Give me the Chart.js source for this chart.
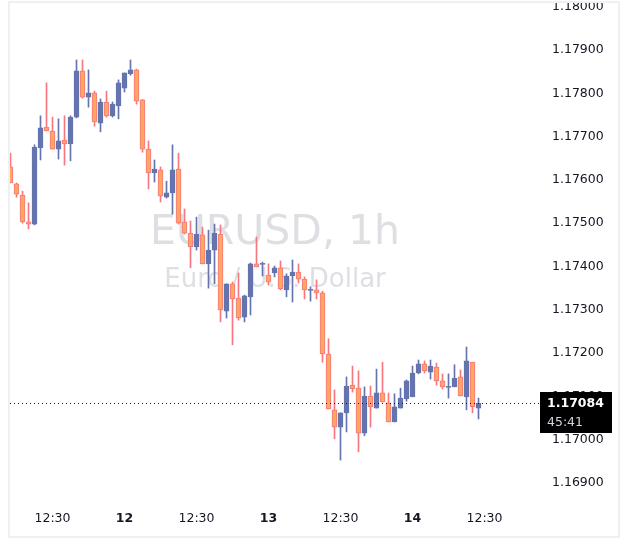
<!DOCTYPE html>
<html>
<head>
<meta charset="utf-8">
<script src="https://cdn.jsdelivr.net/npm/chart.js@4.4.1/dist/chart.umd.min.js"></script>
<style>
  html, body { margin: 0; padding: 0; background: #ffffff; }
  #wrap { position: relative; width: 629px; height: 557px; }
</style>
</head>
<body>
<div id="wrap"><canvas id="chart" width="629" height="557"></canvas></div>
<script>
// EURUSD 1h candles (index 0 = first visible bar)
const opens = [
  1.17630, 1.17591, 1.17565, 1.17503, 1.17498, 1.17674, 1.17722, 1.17713, 1.17671, 1.17692,
  1.17683, 1.17745, 1.17852, 1.17791, 1.17801, 1.17731, 1.17780, 1.17748, 1.17771, 1.17812,
  1.17845, 1.17854, 1.17785, 1.17671, 1.17616, 1.17623, 1.17560, 1.17570, 1.17625, 1.17503,
  1.17477, 1.17445, 1.17473, 1.17406, 1.17438, 1.17475, 1.17297, 1.17360, 1.17327, 1.17283,
  1.17330, 1.17406, 1.17405, 1.17380, 1.17385, 1.17397, 1.17346, 1.17378, 1.17387, 1.17371,
  1.17345, 1.17346, 1.17339, 1.17198, 1.17069, 1.17029, 1.17062, 1.17126, 1.17119, 1.17015,
  1.17101, 1.17073, 1.17108, 1.17085, 1.17041, 1.17073, 1.17094, 1.17099, 1.17154, 1.17175,
  1.17156, 1.17168, 1.17136, 1.17121, 1.17122, 1.17145, 1.17099, 1.17179, 1.17073
];
const highs = [
  1.17662, 1.17593, 1.17574, 1.17547, 1.17681, 1.17748, 1.17824, 1.17745, 1.17741, 1.17748,
  1.17748, 1.17877, 1.17877, 1.17854, 1.17805, 1.17787, 1.17805, 1.17780, 1.17831, 1.17847,
  1.17877, 1.17856, 1.17786, 1.17690, 1.17646, 1.17630, 1.17597, 1.17681, 1.17662, 1.17533,
  1.17505, 1.17514, 1.17491, 1.17484, 1.17498, 1.17496, 1.17360, 1.17364, 1.17385, 1.17334,
  1.17408, 1.17468, 1.17410, 1.17406, 1.17401, 1.17413, 1.17383, 1.17415, 1.17406, 1.17376,
  1.17353, 1.17369, 1.17343, 1.17233, 1.17115, 1.17062, 1.17145, 1.17170, 1.17159, 1.17122,
  1.17124, 1.17163, 1.17179, 1.17108, 1.17106, 1.17119, 1.17138, 1.17170, 1.17184, 1.17182,
  1.17184, 1.17177, 1.17152, 1.17152, 1.17173, 1.17161, 1.17214, 1.17179, 1.17096
];
const lows = [
  1.17593, 1.17560, 1.17500, 1.17487, 1.17496, 1.17646, 1.17713, 1.17671, 1.17648, 1.17634,
  1.17644, 1.17743, 1.17789, 1.17768, 1.17724, 1.17711, 1.17745, 1.17745, 1.17741, 1.17803,
  1.17842, 1.17775, 1.17664, 1.17579, 1.17595, 1.17549, 1.17558, 1.17521, 1.17498, 1.17475,
  1.17397, 1.17438, 1.17406, 1.17350, 1.17360, 1.17272, 1.17281, 1.17219, 1.17276, 1.17272,
  1.17288, 1.17399, 1.17378, 1.17357, 1.17376, 1.17346, 1.17330, 1.17318, 1.17362, 1.17325,
  1.17320, 1.17325, 1.17179, 1.17071, 1.17002, 1.16953, 1.17018, 1.17110, 1.16972, 1.17009,
  1.17029, 1.17073, 1.17087, 1.17041, 1.17041, 1.17073, 1.17089, 1.17099, 1.17152, 1.17154,
  1.17140, 1.17126, 1.17117, 1.17096, 1.17122, 1.17101, 1.17069, 1.17062, 1.17048
];
const closes = [
  1.17593, 1.17567, 1.17503, 1.17498, 1.17676, 1.17720, 1.17713, 1.17671, 1.17690, 1.17683,
  1.17745, 1.17852, 1.17791, 1.17801, 1.17734, 1.17780, 1.17748, 1.17775, 1.17824, 1.17847,
  1.17854, 1.17782, 1.17671, 1.17616, 1.17625, 1.17563, 1.17570, 1.17623, 1.17500, 1.17477,
  1.17445, 1.17475, 1.17406, 1.17438, 1.17477, 1.17300, 1.17360, 1.17325, 1.17281, 1.17332,
  1.17406, 1.17399, 1.17406, 1.17364, 1.17397, 1.17348, 1.17378, 1.17387, 1.17371, 1.17346,
  1.17346, 1.17339, 1.17198, 1.17071, 1.17029, 1.17062, 1.17124, 1.17117, 1.17015, 1.17101,
  1.17076, 1.17108, 1.17087, 1.17041, 1.17076, 1.17096, 1.17136, 1.17154, 1.17175, 1.17159,
  1.17170, 1.17136, 1.17122, 1.17122, 1.17142, 1.17101, 1.17182, 1.17076, 1.17084
];

// axis ticks
const xTickIndex = [7, 19, 31, 43, 55, 67, 79];
const xTickLabels = ['12:30', '12', '12:30', '13', '12:30', '14', '12:30'];
const yTicks = [1.169, 1.170, 1.171, 1.172, 1.173, 1.174, 1.175, 1.176, 1.177, 1.178, 1.179, 1.180];

const lastPrice = 1.17084;
const countdown = '45:41';
const symbolTitle = 'EURUSD, 1h';
const symbolName = 'Euro / U.S. Dollar';

const FONT = 'DejaVu Sans';
const TEXT = '#131722';
const upColor = '#6474ad';
const downFill = '#ffa65f';
const downLine = '#f7767f';

const isUp = closes.map((c, i) => c >= opens[i]);

// watermark behind the candles
const watermark = {
  id: 'watermark',
  beforeDatasetsDraw(chart) {
    const ctx = chart.ctx;
    ctx.save();
    ctx.fillStyle = '#dedfe3';
    ctx.textAlign = 'center';
    ctx.textBaseline = 'alphabetic';
    ctx.font = '41px "' + FONT + '"';
    ctx.fillText(symbolTitle, 275, 244);
    ctx.font = '26px "' + FONT + '"';
    ctx.fillText(symbolName, 275, 287);
    ctx.restore();
  }
};

// last price line, price label and the pane frame
const overlay = {
  id: 'overlay',
  afterDraw(chart) {
    const ctx = chart.ctx;
    const area = chart.chartArea;
    const py = Math.round(chart.scales.y.getPixelForValue(lastPrice)) + 0.5;
    ctx.save();
    ctx.strokeStyle = TEXT;
    ctx.lineWidth = 1;
    ctx.setLineDash([1, 3]);
    ctx.beginPath();
    ctx.moveTo(area.left, py);
    ctx.lineTo(540, py);
    ctx.stroke();
    ctx.setLineDash([]);

    ctx.fillStyle = '#000000';
    ctx.fillRect(540, py - 11.5, 72, 41);
    ctx.textAlign = 'left';
    ctx.textBaseline = 'middle';
    ctx.fillStyle = '#ffffff';
    ctx.font = 'bold 12.5px "' + FONT + '"';
    ctx.fillText(lastPrice.toFixed(5), 547, py);
    ctx.fillStyle = '#d1d4dc';
    ctx.font = '12.5px "' + FONT + '"';
    ctx.fillText(countdown, 547, py + 19);

    ctx.strokeStyle = '#eef0f3';
    ctx.lineWidth = 2;
    ctx.strokeRect(9, 2, 610, 535);
    ctx.restore();
  }
};

const ctx = document.getElementById('chart').getContext('2d');

new Chart(ctx, {
  type: 'bar',
  data: {
    datasets: [
      {
        label: 'wick',
        data: lows.map((l, i) => ({ x: i, y: [l, highs[i]] })),
        backgroundColor: isUp.map(u => u ? upColor : downLine),
        borderWidth: 0,
        barThickness: 1,
        grouped: false,
        order: 2
      },
      {
        label: 'body',
        data: opens.map((o, i) => ({ x: i, y: [o, closes[i]] })),
        backgroundColor: isUp.map(u => u ? upColor : downFill),
        borderColor: isUp.map(u => u ? upColor : downLine),
        borderWidth: 1,
        borderSkipped: false,
        barThickness: 5,
        minBarLength: 1,
        grouped: false,
        order: 1
      }
    ]
  },
  options: {
    responsive: false,
    animation: false,
    layout: { padding: { left: 10, right: 0, top: 0, bottom: 0 } },
    plugins: {
      legend: { display: false },
      tooltip: { enabled: false }
    },
    scales: {
      x: {
        type: 'linear',
        offset: false,
        min: -1 / 12,
        max: 85 - 1 / 12,
        grid: { display: false, drawTicks: false },
        border: { display: false },
        afterBuildTicks: s => { s.ticks = xTickIndex.map(v => ({ value: v })); },
        afterFit: s => { s.height = 52; s.paddingLeft = 0; s.paddingRight = 0; },
        ticks: {
          autoSkip: false,
          maxRotation: 0,
          padding: 6,
          color: TEXT,
          font: c => ({
            family: FONT,
            size: 12.5,
            weight: (xTickLabels[c.index] || '').includes(':') ? 'normal' : 'bold'
          }),
          callback: (v, i) => xTickLabels[i]
        }
      },
      y: {
        position: 'right',
        min: 1.169 - 22 / 43300,
        max: 1.169 + 483 / 43300,
        grid: { display: false, drawTicks: false },
        border: { display: false },
        afterBuildTicks: s => { s.ticks = yTicks.map(v => ({ value: v })); },
        afterFit: s => { s.width = 109; s.paddingTop = 0; s.paddingBottom = 0; },
        ticks: {
          autoSkip: false,
          padding: 32,
          color: TEXT,
          font: { family: FONT, size: 12.5 },
          callback: v => v.toFixed(5)
        }
      }
    }
  },
  plugins: [watermark, overlay]
});
</script>
</body>
</html>
